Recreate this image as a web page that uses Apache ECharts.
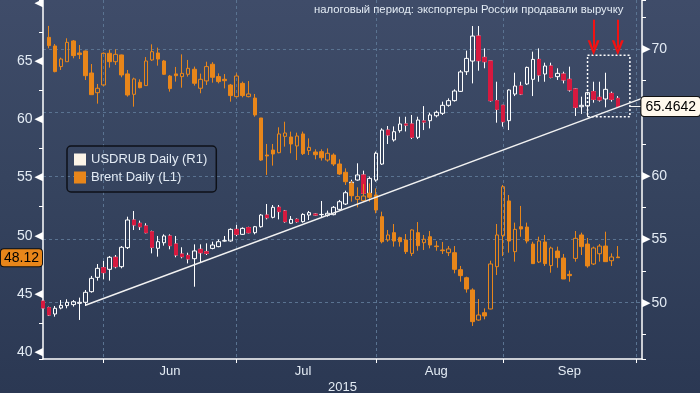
<!DOCTYPE html>
<html><head><meta charset="utf-8">
<script src="https://cdn.jsdelivr.net/npm/echarts@6/dist/echarts.min.js"></script>
<style>
html,body{margin:0;padding:0;}
#c{width:700px;height:393px;background:linear-gradient(to bottom,#3f4c69 0%,#36445f 45%,#2b3853 100%);}
</style>
</head><body><div id="c"></div>
<script>
// ---- categories: weekdays from 2015-05-18 to 2015-10-02 ----
const dates = [];
for (let d = new Date(Date.UTC(2015, 4, 18)); dates.length < 100; d.setUTCDate(d.getUTCDate() + 1)) {
  const wd = d.getUTCDay();
  if (wd === 0 || wd === 6) continue;
  dates.push(d.toISOString().slice(0, 10));
}
const monthNames = ['Jun', 'Jul', 'Aug', 'Sep'];

// ---- USDRUB (right axis) ----
const rubOpen = [50.13,49.61,49.11,49.58,49.77,49.85,49.95,50.03,50.87,52.0,
52.76,52.63,53.58,52.84,54.34,56.52,56.26,56.05,55.6,54.29,
54.73,55.26,54.63,53.84,53.73,53.47,54.21,54.02,54.28,54.42,
54.86,54.87,55.78,55.39,55.92,55.52,55.99,56.91,56.73,57.52,
57.23,56.26,56.57,56.39,56.91,56.99,56.94,56.89,56.94,57.36,
57.78,58.7,59.67,60.07,58.62,59.67,60.93,63.61,62.83,63.56,
64.09,64.09,63.04,64.33,64.35,64.74,64.93,65.56,65.93,66.66,
68.21,69.05,71.02,69.34,69.05,65.93,65.56,64.35,66.45,67.08,
67.24,67.61,69.18,68.03,68.66,67.82,68.03,67.61,66.85,65.45,
65.51,66.64,66.19,66.06,66.50,66.11];
const rubClose = [49.58,49.03,49.56,49.79,50.03,50.08,50.03,50.82,51.92,52.71,
52.37,53.58,52.84,54.37,56.52,56.13,55.99,55.52,54.37,54.81,
55.26,54.50,53.76,53.63,53.45,54.08,53.94,53.89,54.55,54.81,
54.89,55.78,55.39,55.86,55.52,55.99,56.91,56.70,57.52,57.18,
56.39,56.57,56.39,56.96,57.10,56.91,56.96,57.05,57.52,57.96,
58.67,59.5,60.07,58.62,59.8,61.78,63.61,63.22,63.48,64.09,
64.0,63.04,64.4,64.24,64.8,65.01,65.56,65.93,66.69,68.19,
69.26,71.02,69.08,69.0,65.93,65.24,64.27,66.77,67.08,66.45,
68.55,69.18,67.95,68.66,67.77,68.08,67.56,66.77,65.4,65.56,
66.56,66.03,65.98,66.82,66.03,65.4642];
const rubLow = [49.5,48.95,48.9,49.48,49.56,49.69,48.64,49.74,50.79,51.74,
51.84,51.74,52.71,52.71,54.23,55.73,55.73,55.47,53.89,53.63,
54.50,54.21,53.58,53.50,53.10,51.26,53.18,53.76,54.21,54.37,
54.81,54.81,55.26,55.34,55.47,55.39,55.92,56.57,56.65,56.57,
56.31,56.20,56.31,56.31,56.52,56.86,56.73,56.78,56.89,57.26,
57.70,58.6,59.62,58.49,58.49,59.54,60.86,62.51,62.7,63.4,
63.5,62.9,62.9,63.61,63.74,64.61,64.8,65.45,65.85,66.61,
67.95,67.29,68.29,68.48,65.85,64.19,63.88,63.61,66.29,66.37,
67.16,66.29,67.42,67.42,67.69,67.56,67.29,66.64,64.72,64.88,
64.66,65.77,65.85,65.4,65.85,65.45];
const rubHigh = [50.2,49.69,49.74,50.21,50.27,50.21,50.4,51.0,52.11,53.05,
53.29,53.68,53.76,54.47,56.78,57.23,56.47,56.26,55.68,55.26,
55.39,55.39,55.26,54.37,53.94,54.6,54.6,54.68,54.81,54.99,
55.26,55.86,56.13,55.94,55.99,56.05,56.99,57.78,57.70,57.70,
57.31,56.83,56.65,57.05,57.23,57.05,58.02,57.26,57.62,58.10,
58.83,59.7,60.99,60.41,59.94,61.91,63.75,63.93,63.9,64.66,
64.66,64.8,64.66,65.5,64.98,65.14,65.85,66.11,66.82,68.34,
69.87,71.81,71.81,70.05,69.05,67.42,65.59,66.82,68.13,67.42,
68.61,69.79,70.05,68.92,68.92,68.48,68.21,68.61,66.9,66.24,
66.64,67.42,67.42,68.13,66.64,66.29];

// ---- Brent (left axis), no bar on the first day ----
const brentOpen = [null,67.03,66.29,64.52,64.94,66.72,65.69,65.86,63.97,62.28,62.94,
65.66,64.94,65.52,63.89,62.14,63.17,62.89,65.09,65.69,65.0,
63.71,63.89,63.66,63.86,64.29,62.66,63.29,64.72,63.66,63.43,
62.94,61.94,63.08,61.94,61.82,60.11,56.93,57.36,57.13,58.53,
58.48,57.71,58.74,57.31,57.19,57.22,56.5,56.93,56.16,55.45,
54.5,53.13,53.01,53.64,53.5,51.64,49.64,50.27,49.84,49.64,
48.49,50.27,49.41,49.92,49.12,48.78,48.55,48.55,47.09,46.40,
45.35,42.77,43.40,43.72,47.35,50.01,52.99,48.64,50.78,50.75,
49.29,47.75,49.47,47.44,48.69,48.09,46.69,48.06,50.07,49.29,
47.58,48.46,49.12,47.86,48.18];
const brentClose = [null,66.32,64.09,65.17,66.60,65.46,65.55,63.74,62.11,62.66,65.66,
64.94,65.57,63.80,62.08,63.46,62.71,65.0,65.8,65.17,63.86,
62.63,63.74,63.94,64.37,63.09,63.43,64.52,63.6,63.23,63.31,
62.03,63.71,62.03,62.17,60.37,56.50,56.85,57.02,58.74,58.82,
57.88,58.56,57.05,57.59,56.96,56.7,57.08,56.16,55.3,54.64,
53.44,53.36,53.41,53.3,52.21,49.49,50.07,49.55,49.49,48.64,
50.50,49.15,49.70,49.21,49.07,48.72,48.87,47.12,46.58,45.43,
42.63,43.20,43.12,47.58,50.07,54.21,49.55,50.55,50.58,49.55,
47.61,49.55,47.61,48.95,48.12,46.29,46.58,49.78,49.07,47.41,
48.95,49.12,47.78,48.18,48.12];
const brentLow = [null,66.09,64.03,64.23,64.94,65.23,65.17,63.37,62.11,61.34,62.86,
64.43,64.66,63.6,61.94,61.08,62.66,62.89,65.0,64.6,63.80,
62.37,63.23,62.71,63.66,62.89,62.23,62.94,63.14,63.08,62.65,
61.51,61.88,61.88,61.88,60.22,56.42,55.22,56.02,57.08,57.65,
57.08,56.5,56.93,56.93,56.56,56.45,56.36,55.99,55.22,54.36,
52.93,52.44,52.93,52.93,51.93,49.35,49.49,49.07,49.07,48.44,
48.26,48.72,48.78,48.92,48.72,48.44,48.26,46.78,46.06,45.12,
42.26,42.71,42.83,43.69,46.63,48.26,48.55,47.78,49.92,49.35,
47.61,47.66,47.41,46.83,47.26,46.29,46.06,47.78,48.35,47.26,
47.49,47.78,47.78,47.41,48.12];
const brentHigh = [null,68.01,66.46,65.29,66.95,66.8,66.37,65.9,64.74,63.03,65.74,
65.95,66.0,65.55,64.23,63.57,63.43,65.34,66.43,66.15,65.09,
63.80,64.49,65.57,65.09,64.52,63.92,64.94,64.9,63.94,63.88,
63.03,63.94,63.23,63.28,62.17,60.11,57.88,57.88,59.31,59.79,
58.94,58.85,58.94,58.36,57.42,57.42,57.5,57.08,56.56,55.79,
54.7,54.16,54.44,54.5,54.07,52.07,50.50,51.01,49.92,50.15,
50.55,51.18,50.07,50.41,49.55,49.47,49.12,49.12,47.41,46.49,
45.49,44.57,43.77,47.86,51.01,54.36,53.50,51.13,52.56,51.13,
49.49,49.92,50.07,49.07,49.07,48.44,47.01,50.41,50.27,49.81,
49.07,49.29,50.35,48.49,49.12];

// ---- annotations ----
const trendFrom = [7, 49.8], trendTo = [99, 66.11];
const boxFrom = [90, 69.5], boxTo = [97, 64.65];
const arrowIdx = [91, 95], arrowTop = 72.3, arrowEnd = 70.1;
const note = 'налоговый период: экспортеры России продавали выручку';

const ORANGE = '#e8861a', RED = '#d7193f', TXT = '#e3ebf4';
const FONT = 'Liberation Sans';

const rubData = rubOpen.map((o, i) => [o, rubClose[i], rubLow[i], rubHigh[i]]);
const rubDown = rubOpen.map((o, i) => rubClose[i] < o ? [o, rubClose[i], rubClose[i], o] : '-');
const brentData = brentOpen.map((o, i) => o == null ? '-' : [o, brentClose[i], brentLow[i], brentHigh[i]]);

const monthStarts = [];
for (let i = 1; i < dates.length; i++) if (dates[i].slice(5, 7) !== dates[i - 1].slice(5, 7)) monthStarts.push(i);
const labelAt = {};
for (let m = 0; m < monthNames.length; m++) labelAt[Math.floor((monthStarts[m] + monthStarts[m + 1]) / 2)] = monthNames[m];

const chev = 'path://M0,12 L6,0 L12,12 L9.4,12 L6,4.6 L2.6,12 Z';
const lastRub = rubClose[rubClose.length - 1];
const lastBrent = brentClose[brentClose.length - 1];
const isMajor = v => Math.abs(v % 5) < 1e-9;

const chart = echarts.init(document.getElementById('c'));
chart.setOption({
  animation: false,
  backgroundColor: 'transparent',
  textStyle: {fontFamily: FONT},
  title: {text: note, left: 314, top: 4, padding: 0,
    textStyle: {color: TXT, fontSize: 11.3, fontWeight: 'normal', fontFamily: FONT}},
  legend: {
    orient: 'vertical', left: 67, top: 146, padding: [7, 9, 8, 7], itemGap: 5,
    itemWidth: 12, itemHeight: 12, borderColor: '#0e1118', borderWidth: 1.5, borderRadius: 4,
    textStyle: {color: TXT, fontSize: 13, fontFamily: FONT},
    data: [
      {name: 'USDRUB Daily (R1)', icon: 'rect', itemStyle: {color: '#fbf4e8', borderWidth: 0}},
      {name: 'Brent Daily (L1)', icon: 'rect', itemStyle: {color: ORANGE, borderWidth: 0}}
    ]
  },
  grid: {left: 43, right: 58, top: 0, bottom: 34, containLabel: false, outerBoundsMode: 'none'},
  xAxis: {
    type: 'category', data: dates, boundaryGap: false,
    axisLine: {lineStyle: {color: '#fff', width: 1.5}},
    axisTick: {show: true, length: 4, interval: i => monthStarts.includes(i), lineStyle: {color: '#fff'}},
    axisLabel: {interval: i => labelAt[i] !== undefined, formatter: (v, i) => labelAt[i] || '',
      color: TXT, fontSize: 13, margin: 6, fontFamily: FONT},
    splitLine: {show: true, interval: i => monthStarts.includes(i),
      lineStyle: {color: '#5a7391', type: [3, 3], width: 1}},
    name: '2015', nameLocation: 'middle', nameGap: 22, nameMoveOverlap: false,
    nameTextStyle: {color: TXT, fontSize: 13, fontFamily: FONT}
  },
  yAxis: [
    {
      type: 'value', position: 'left', min: 39.425, max: 70.235, scale: true,
      axisLine: {show: true, lineStyle: {color: '#fff', width: 1.5}},
      axisTick: {show: true, length: 4, lineStyle: {color: '#fff'}},
      minorTick: {show: true, splitNumber: 2, length: 4, lineStyle: {color: '#fff'}},
      splitLine: {show: false},
      axisLabel: {margin: 0,
        formatter: v => (!isMajor(v) ? '' : (v >= 70 ? '{t|◀}' : '{v|' + v + '}{t|◀}')),
        rich: {v: {color: TXT, fontSize: 14, fontFamily: FONT, padding: [0, 2, 0, 0]},
               t: {color: '#fff', fontSize: 11, fontFamily: 'DejaVu Sans'}}},
      axisPointer: {show: true, type: 'none', status: 'show', value: lastBrent, triggerTooltip: false,
        label: {show: true, margin: 1, formatter: p => Number(p.value).toFixed(2),
          backgroundColor: ORANGE, color: '#000', fontSize: 14, fontFamily: FONT,
          padding: [2, 3, 1, 3], borderColor: '#111', borderWidth: 1}}
    },
    {
      type: 'value', position: 'right', min: 45.562, max: 73.863, scale: true,
      axisLine: {show: true, lineStyle: {color: '#fff', width: 1.5}},
      axisTick: {show: true, length: 4, lineStyle: {color: '#fff'}},
      minorTick: {show: true, splitNumber: 2, length: 4, lineStyle: {color: '#fff'}},
      splitLine: {show: true, showMinLine: false, showMaxLine: false,
        lineStyle: {color: '#5a7391', type: [3, 3], width: 1}},
      axisLabel: {margin: 0, formatter: v => (isMajor(v) ? '{t|▶}{v|' + v + '}' : ''),
        rich: {v: {color: TXT, fontSize: 14, fontFamily: FONT, padding: [0, 0, 0, 1]},
               t: {color: '#fff', fontSize: 11, fontFamily: 'DejaVu Sans'}}},
      axisPointer: {show: true, type: 'none', status: 'show', value: lastRub, triggerTooltip: false,
        label: {show: true, margin: 3, formatter: p => Number(p.value).toFixed(4),
          backgroundColor: '#fff8ec', color: '#000', fontSize: 14, fontFamily: FONT,
          padding: [3, 4, 2, 4], borderColor: '#111', borderWidth: 1}}
    }
  ],
  series: [
    {
      name: 'USDRUB Daily (R1)', type: 'candlestick', xAxisIndex: 0, yAxisIndex: 1,
      data: rubData, barWidth: 4, silent: true,
      itemStyle: {color: 'rgba(0,0,0,0)', color0: RED, borderColor: '#fff', borderColor0: '#fff', borderWidth: 1},
      markLine: {
        silent: true, symbol: ['none', 'none'], label: {show: false},
        lineStyle: {color: '#f2f2f2', width: 1.5, type: 'solid'},
        data: [
          [{coord: [dates[trendFrom[0]], trendFrom[1]]}, {coord: [dates[trendTo[0]], trendTo[1]]}],
          [{coord: [dates[rubClose.length + 1], lastRub], lineStyle: {width: 1}},
           {coord: [dates[dates.length - 1], lastRub], lineStyle: {width: 1}}]
        ]
      },
      markArea: {
        silent: true, label: {show: false},
        itemStyle: {color: 'rgba(0,0,0,0)', borderColor: '#fff', borderWidth: 1.5, borderType: [2, 2]},
        data: [[{coord: [dates[boxFrom[0]], boxFrom[1]]}, {coord: [dates[boxTo[0]], boxTo[1]]}]]
      }
    },
    {
      name: 'USDRUB down', type: 'candlestick', xAxisIndex: 0, yAxisIndex: 1,
      data: rubDown, barWidth: 4, silent: true,
      itemStyle: {color: RED, color0: RED, borderColor: RED, borderColor0: RED, borderWidth: 1},
      markLine: {
        silent: true, label: {show: false}, symbol: ['none', chev], symbolSize: [12, 15],
        lineStyle: {color: '#f21212', width: 2, type: 'solid'},
        data: arrowIdx.map(i => [{coord: [dates[i], arrowTop]}, {coord: [dates[i], arrowEnd]}])
      }
    },
    {
      name: 'Brent Daily (L1)', type: 'candlestick', xAxisIndex: 0, yAxisIndex: 0,
      data: brentData, barWidth: 4, silent: true,
      itemStyle: {color: 'rgba(0,0,0,0)', color0: ORANGE, borderColor: ORANGE, borderColor0: ORANGE, borderWidth: 1}
    }
  ]
});
</script></body></html>
